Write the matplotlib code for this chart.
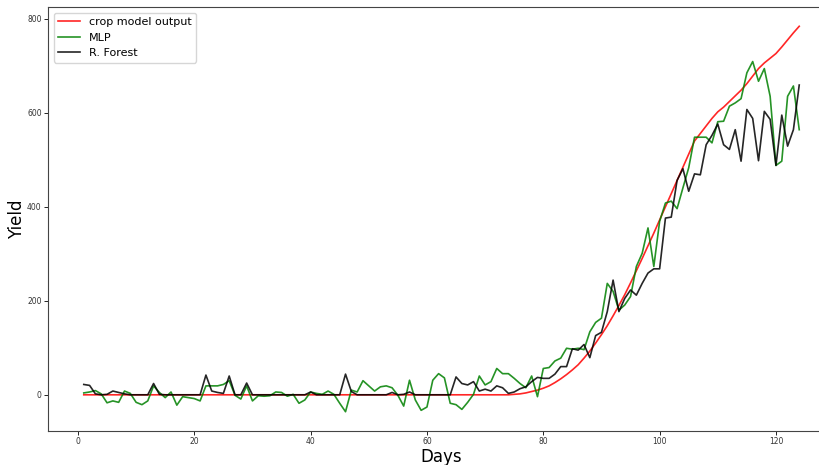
import numpy as np
import matplotlib
matplotlib.use("Agg")
import matplotlib.pyplot as plt

days = list(range(1, 125))

crop_model = [0] * 74 + [
    1, 2, 4, 7, 10, 14, 19, 26, 34, 43,            # 75-84
    53, 64, 78, 93, 110, 128, 147, 168, 190, 213,   # 85-94
    238, 264, 290, 317, 344, 372, 400, 428, 456, 484,  # 95-104
    512, 540, 556, 572, 588, 602, 612, 624, 636, 648,  # 105-114
    662, 678, 694, 706, 716, 726, 740, 755, 770, 784,  # 115-124
]

mlp = [
    4, 6, 9, 2, -17, -13, -16, 8, 3, -16,           # 1-10
    -21, -13, 19, 5, -6, 6, -22, -4, -6, -8,        # 11-20
    -13, 19, 19, 19, 22, 30, -1, -9, 19, -13,       # 21-30
    -2, -3, -2, 6, 5, -3, 1, -18, -11, 6,           # 31-40
    3, 1, 8, 1, -18, -36, 10, 6, 30, 19,            # 41-50
    8, 17, 19, 15, -1, -24, 31, -11, -33, -26,      # 51-60
    31, 45, 36, -18, -21, -31, -16, 1, 40, 21,      # 61-70
    28, 56, 45, 45, 35, 24, 15, 40, -4, 56,         # 71-80
    58, 72, 78, 99, 97, 99, 96, 134, 154, 163,      # 81-90
    237, 220, 180, 191, 209, 273, 301, 355, 273, 369,  # 91-100
    408, 412, 396, 440, 483, 548, 548, 548, 536, 581,  # 101-110
    582, 614, 621, 630, 685, 709, 667, 694, 635, 488,  # 111-120
    497, 635, 657, 564,                                # 121-124
]

forest = [
    22, 20, 2, 0, 1, 8, 5, 2, 0, 0,                 # 1-10
    0, 0, 24, 1, 0, 0, 0, 0, 0, 0,                  # 11-20
    0, 42, 8, 5, 3, 40, 0, 0, 25, 0,                # 21-30
    0, 0, 0, 0, 0, 0, 0, 0, 0, 6,                   # 31-40
    0, 0, 0, 0, 0, 44, 7, 0, 0, 0,                  # 41-50
    0, 0, 0, 5, 0, 1, 6, 0, 0, 0,                   # 51-60
    0, 0, 0, 0, 38, 24, 21, 28, 8, 12,              # 61-70
    8, 19, 15, 3, 6, 13, 17, 28, 37, 35,            # 71-80
    35, 44, 60, 60, 98, 95, 107, 79, 126, 133,      # 81-90
    177, 244, 177, 205, 223, 212, 237, 259, 268, 268,  # 91-100
    376, 378, 456, 481, 433, 470, 468, 532, 552, 576,  # 101-110
    532, 522, 564, 497, 607, 588, 498, 603, 586, 488,  # 111-120
    595, 529, 564, 659,                                # 121-124
]

fig = plt.figure(figsize=(8.2, 4.65), dpi=100)
ax = fig.add_axes([48 / 820, 34 / 465, (835 - 48) / 820, (431 - 7) / 465])

ax.plot(days, crop_model, color="red", lw=1.2, alpha=0.85, label="crop model output")
ax.plot(days, mlp, color="green", lw=1.2, alpha=0.85, label="MLP")
ax.plot(days, forest, color="black", lw=1.2, alpha=0.85, label="R. Forest")

ax.set_xlabel("Days", fontsize=12, labelpad=1)
ax.set_ylabel("Yield", fontsize=12, labelpad=1)
ax.tick_params(labelsize=5.5, length=3, width=0.6, pad=1.5, labelcolor="#333333")
ax.set_xticks([0, 20, 40, 60, 80, 100, 120])
ax.set_yticks([0, 200, 400, 600, 800])
for s in ax.spines.values():
    s.set_linewidth(0.8)
    s.set_color("#444444")

ax.legend(loc="upper left", fontsize=8, frameon=True)

fig.savefig("out.png", dpi=100)
